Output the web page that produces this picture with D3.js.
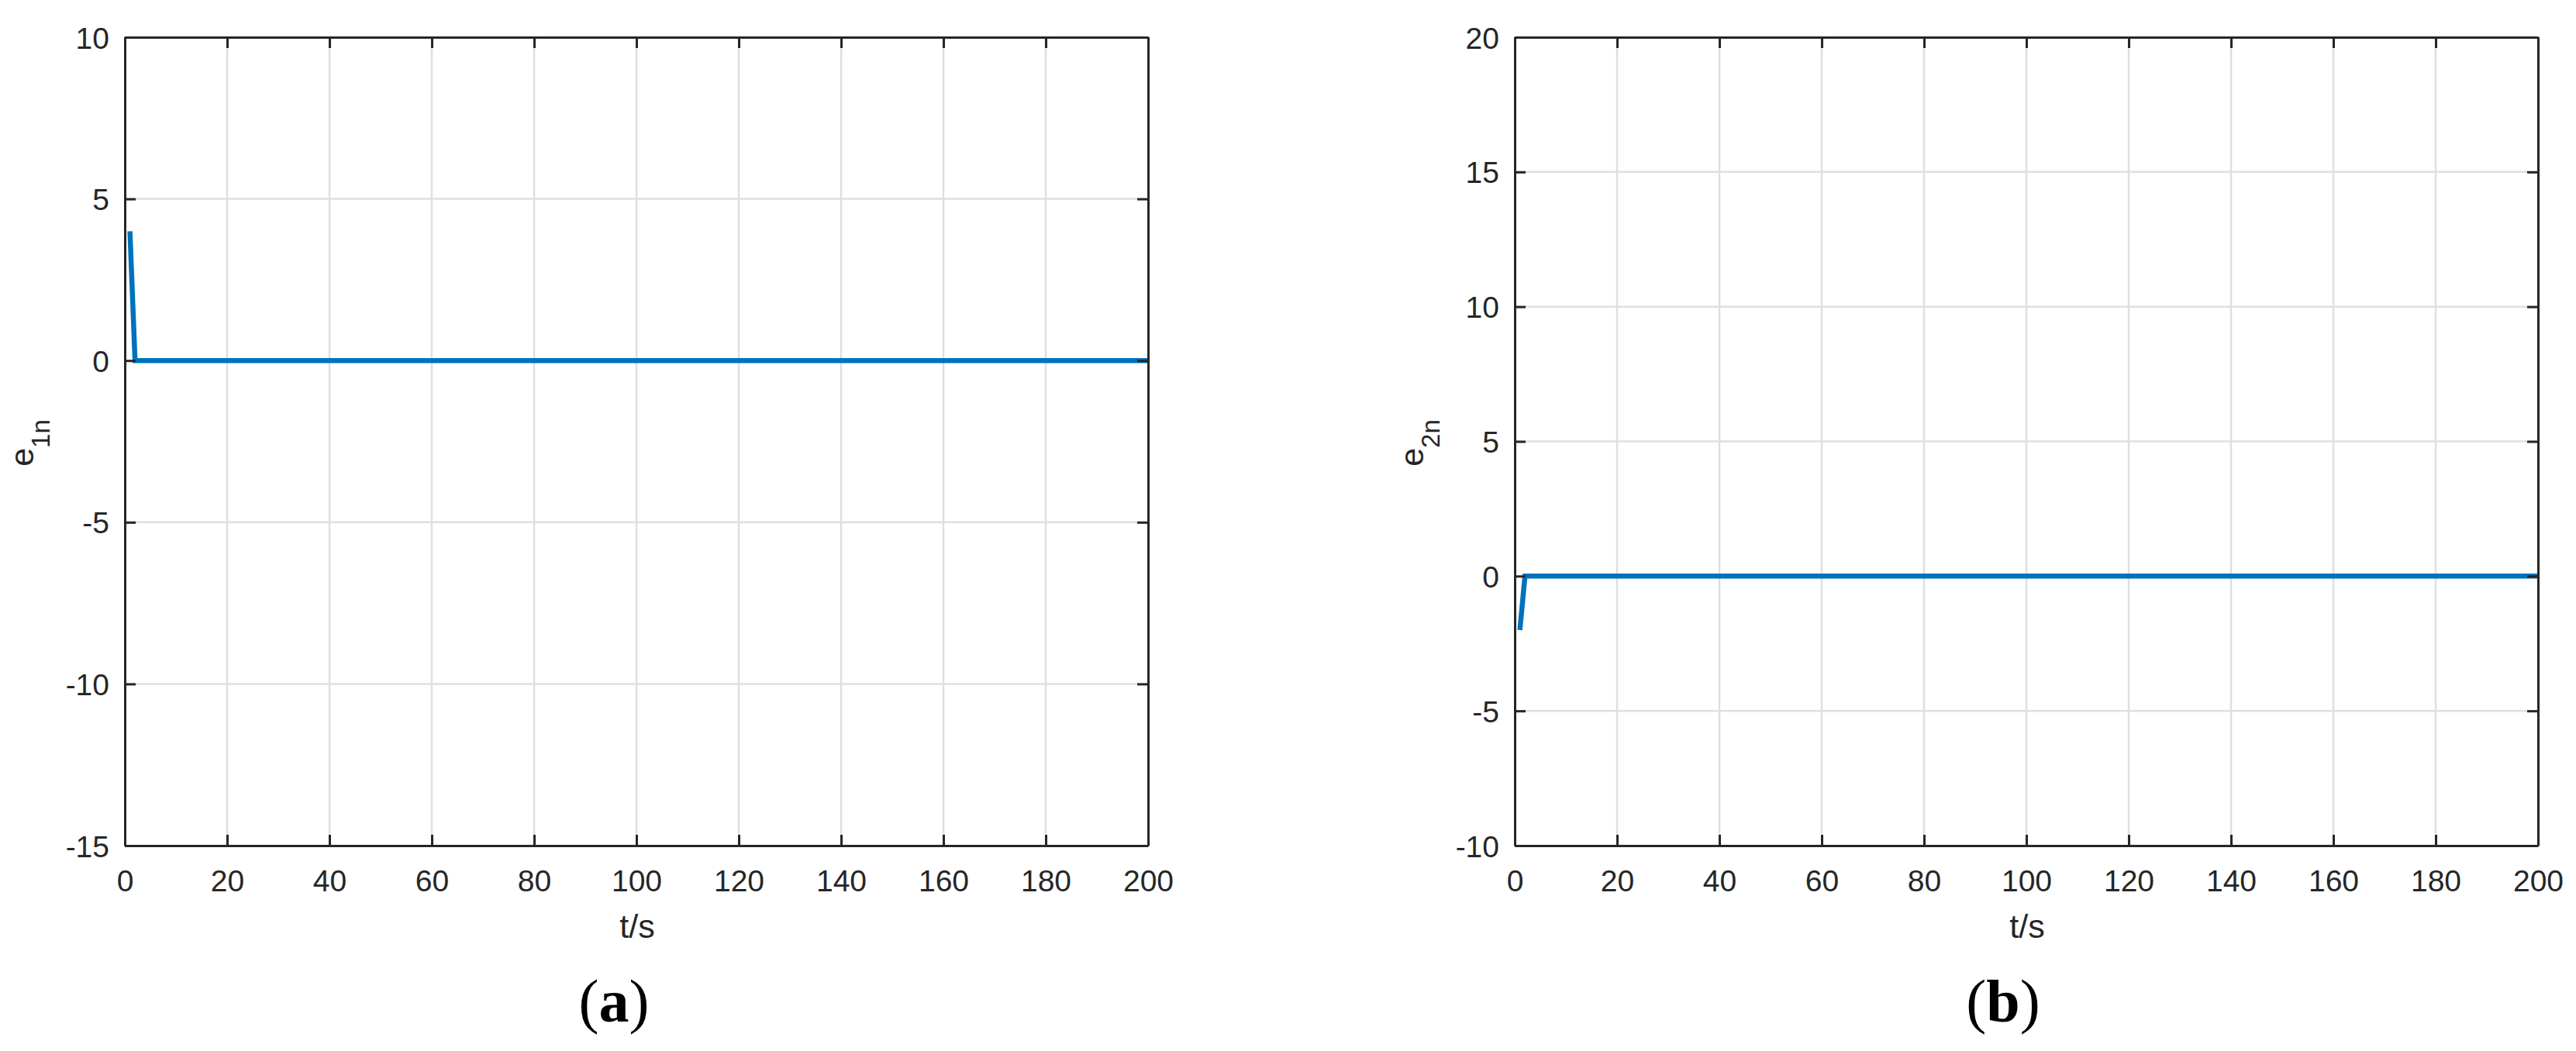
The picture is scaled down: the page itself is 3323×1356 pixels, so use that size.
<!DOCTYPE html>
<html>
<head>
<meta charset="utf-8">
<script src="https://cdn.jsdelivr.net/npm/d3@7"></script>
<style>
  body { margin: 0; background: #fff; }
  svg { display: block; }
</style>
</head>
<body>
<div id="viz-container"></div>
<script>

// data
let tA = [1, 2, 200];
let e1n = [4, 0, 0];
let tB = [1, 2, 200];
let e2n = [-2, 0, 0];

let xTicks = [0, 20, 40, 60, 80, 100, 120, 140, 160, 180, 200];
let yTicksA = [-15, -10, -5, 0, 5, 10];
let yTicksB = [-10, -5, 0, 5, 10, 15, 20];

let viz = d3.select("#viz-container")
              .append("svg")
                .attr("width", 3323)
                .attr("height", 1356)
;

let ink = "#262626";
let gridColor = "#dfdfdf";
let lineColor = "#0072bd";
let tickFont = "39px 'Liberation Sans', Arial, sans-serif";

// plain hyphen for negatives, like the original
function plain(d){
  return String(d);
}

function drawPanel(opts){
  let left = opts.left, top = 48, w = 1320, h = 1043;

  let x = d3.scaleLinear().domain([0, 200]).range([left, left + w]);
  let y = d3.scaleLinear().domain(opts.yDomain).range([top + h, top]);

  let g = viz.append("g");

  // grid
  g.selectAll(".gx").data(xTicks.slice(1, -1)).enter().append("line")
    .attr("x1", d => x(d)).attr("x2", d => x(d))
    .attr("y1", top).attr("y2", top + h)
    .attr("stroke", gridColor).attr("stroke-width", 2.5);
  g.selectAll(".gy").data(opts.yTicks.slice(1, -1)).enter().append("line")
    .attr("x1", left).attr("x2", left + w)
    .attr("y1", d => y(d)).attr("y2", d => y(d))
    .attr("stroke", gridColor).attr("stroke-width", 2.5);

  // data line
  let pts = opts.t.map((d, i) => [d, opts.v[i]]);
  let line = d3.line().x(d => x(d[0])).y(d => y(d[1]));
  g.append("path")
    .datum(pts)
    .attr("d", line)
    .attr("fill", "none")
    .attr("stroke", lineColor)
    .attr("stroke-width", 6.5);

  // axes, ticks pointing inward
  let bottom = g.append("g").attr("transform", "translate(0," + (top + h) + ")")
    .call(d3.axisBottom(x).tickValues(xTicks).tickFormat(plain).tickSize(-14).tickPadding(31).tickSizeOuter(0));
  let topAx = g.append("g").attr("transform", "translate(0," + top + ")")
    .call(d3.axisTop(x).tickValues(xTicks).tickSize(-14).tickFormat("").tickSizeOuter(0));
  let leftAx = g.append("g").attr("transform", "translate(" + left + ",0)")
    .call(d3.axisLeft(y).tickValues(opts.yTicks).tickFormat(plain).tickSize(-14).tickPadding(20).tickSizeOuter(0));
  let rightAx = g.append("g").attr("transform", "translate(" + (left + w) + ",0)")
    .call(d3.axisRight(y).tickValues(opts.yTicks).tickSize(-14).tickFormat("").tickSizeOuter(0));

  [bottom, topAx, leftAx, rightAx].forEach(function(a){
    a.select(".domain").attr("stroke", ink).attr("stroke-width", 3);
    a.selectAll(".tick line").attr("stroke", ink).attr("stroke-width", 3);
    a.selectAll(".tick text").attr("fill", ink).style("font", tickFont);
  });
  bottom.selectAll(".tick text").attr("dy", "0.71em");
  leftAx.selectAll(".tick text").attr("dy", "0.36em");

  // x label
  g.append("text")
    .attr("x", left + w / 2 + 1)
    .attr("y", 1210)
    .attr("text-anchor", "middle")
    .attr("fill", ink)
    .style("font", "43px 'Liberation Sans', Arial, sans-serif")
    .text("t/s");

  // y label with subscript
  let yl = g.append("text")
    .attr("transform", "translate(" + (left - 118) + "," + (top + h / 2 + 2) + ") rotate(-90)")
    .attr("text-anchor", "middle")
    .attr("fill", ink)
    .style("font", "43px 'Liberation Sans', Arial, sans-serif");
  yl.append("tspan").text("e");
  yl.append("tspan").attr("dy", 21).style("font-size", "33px").text(opts.sub);

  // panel caption
  let cap = viz.append("text")
    .attr("x", opts.capX)
    .attr("y", 1318)
    .attr("text-anchor", "middle")
    .attr("fill", "#000")
    .style("font", "78px 'Liberation Serif', 'Times New Roman', serif");
  cap.append("tspan").text("(");
  cap.append("tspan").attr("font-weight", "bold").text(opts.cap);
  cap.append("tspan").text(")");
}

drawPanel({left: 161, yDomain: [-15, 10], yTicks: yTicksA, t: tA, v: e1n, sub: "1n", cap: "a", capX: 792});
drawPanel({left: 1954, yDomain: [-10, 20], yTicks: yTicksB, t: tB, v: e2n, sub: "2n", cap: "b", capX: 2584});

</script>
</body>
</html>
